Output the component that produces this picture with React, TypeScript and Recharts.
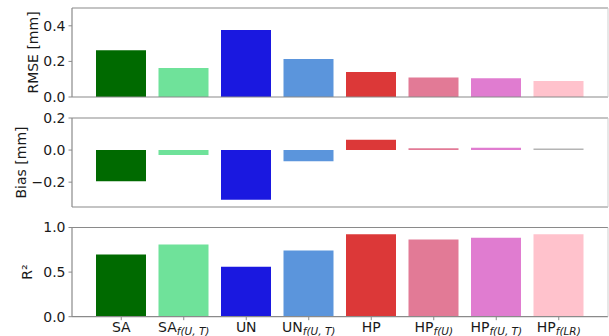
import React from 'react';
import { BarChart, Bar, XAxis, YAxis, Cell } from 'recharts';

const categories = ['SA', 'SA f(U,T)', 'UN', 'UN f(U,T)', 'HP', 'HP f(U)', 'HP f(U,T)', 'HP f(LR)'];
const labelBase = ['SA', 'SA', 'UN', 'UN', 'HP', 'HP', 'HP', 'HP'];
const labelSub = ['', 'f(U, T)', '', 'f(U, T)', '', 'f(U)', 'f(U, T)', 'f(LR)'];
const rmse = [0.263, 0.163, 0.377, 0.214, 0.141, 0.109, 0.105, 0.09];
const bias = [-0.194, -0.031, -0.31, -0.07, 0.064, 0.012, 0.015, 0.01];
const r2 = [0.698, 0.81, 0.56, 0.743, 0.925, 0.866, 0.884, 0.925];
const colors = ['#006a00', '#6fe29a', '#1a18e0', '#5b95dc', '#dc3838', '#e27a96', '#e07cd0', '#ffc2cc'];
const biasColors = ['#006a00', '#6fe29a', '#1a18e0', '#5b95dc', '#dc3838', '#e27a96', '#e07cd0', '#b4b4b4'];
const rmseTicks = [0, 0.2, 0.4];
const biasTicks = [-0.2, 0, 0.2];
const r2Ticks = [0, 0.5, 1.0];

const rows = categories.map((c, i) => ({
  name: c,
  base: labelBase[i],
  sub: labelSub[i],
  rmse: rmse[i],
  bias: bias[i],
  r2: r2[i],
}));

const FONT = '"DejaVu Sans", sans-serif';
const TEXT = '#1a1a1a';
const SPINE = '#8a8a8a';

const fmt = (v: number) => (v < 0 ? '\u2212' : '') + Math.abs(v).toFixed(1);

const yLabel = (text: React.ReactNode, cx: number) => (props: any) => {
  const vb = props.viewBox || {};
  const cy = (vb.y ?? 0) + (vb.height ?? 0) / 2;
  return (
    <text
      x={cx}
      y={cy}
      transform={`rotate(-90 ${cx} ${cy})`}
      textAnchor="middle"
      dominantBaseline="central"
      fontFamily={FONT}
      fontSize={14}
      fill={TEXT}
    >
      {text}
    </text>
  );
};

const XTick = (props: any) => {
  const { x, y, index } = props;
  const base = labelBase[index];
  const sub = labelSub[index];
  return (
    <text x={x} y={y} dy="0.72em" textAnchor="middle" fontFamily={FONT} fontSize={14} fill={TEXT}>
      {base}
      {sub ? (
        <tspan fontSize={10.5} fontStyle="italic" dy={3}>
          {sub}
        </tspan>
      ) : null}
    </text>
  );
};

type PanelProps = {
  top: number;
  height: number;
  marginTop: number;
  xHeight: number;
  dataKey: string;
  domain: [number, number];
  ticks: number[];
  fills: string[];
  label: React.ReactNode;
  labelX: number;
  showX: boolean;
};

const Panel = (p: PanelProps) => (
  <div style={{ position: 'absolute', left: 0, top: p.top, width: 609, height: p.height }}>
    <BarChart
      width={609}
      height={p.height}
      data={rows}
      margin={{ top: p.marginTop - 1, right: 0, bottom: 0, left: 0 }}
      barSize={50}
    >
      <XAxis
        dataKey="name"
        height={p.xHeight}
        padding={{ left: 18, right: 18 }}
        axisLine={{ stroke: SPINE, strokeWidth: 1.2 }}
        tickLine={{ stroke: SPINE }}
        tickSize={3.5}
        tickMargin={2}
        interval={0}
        tick={p.showX ? <XTick /> : false}
      />
      <XAxis
        xAxisId="top"
        orientation="top"
        dataKey="name"
        height={1}
        axisLine={{ stroke: SPINE, strokeWidth: 1.2 }}
        tick={false}
        tickLine={false}
      />
      <YAxis
        width={72}
        domain={p.domain}
        ticks={p.ticks}
        interval={0}
        allowDataOverflow
        tickFormatter={fmt}
        axisLine={{ stroke: SPINE, strokeWidth: 1.2 }}
        tickLine={{ stroke: SPINE }}
        tickSize={3.5}
        tickMargin={3}
        tick={{ fontFamily: FONT, fontSize: 14, fill: TEXT }}
        label={{ content: yLabel(p.label, p.labelX) } as any}
      />
      <YAxis
        yAxisId="right"
        orientation="right"
        width={1}
        domain={p.domain}
        axisLine={{ stroke: '#cfcfcf' }}
        tick={false}
        tickLine={false}
      />
      <Bar dataKey={p.dataKey} isAnimationActive={false}>
        {rows.map((r, i) => (
          <Cell key={r.name} fill={p.fills[i]} />
        ))}
      </Bar>
    </BarChart>
  </div>
);

export default function App() {
  return (
    <div style={{ position: 'absolute', left: 0, top: 0, width: 609, height: 336, background: '#fff', overflow: 'hidden' }}>
      <Panel top={0} height={106} marginTop={8} xHeight={9} dataKey="rmse" domain={[0, 0.5]} ticks={rmseTicks} fills={colors} label="RMSE [mm]" labelX={33} showX={false} />
      <Panel top={100} height={114} marginTop={18} xHeight={7} dataKey="bias" domain={[-0.355, 0.2]} ticks={biasTicks} fills={biasColors} label="Bias [mm]" labelX={21} showX={false} />
      <Panel top={210} height={126} marginTop={17.5} xHeight={19.3} dataKey="r2" domain={[0, 1]} ticks={r2Ticks} fills={colors} label={'R\u00B2'} labelX={27} showX={true} />
    </div>
  );
}
